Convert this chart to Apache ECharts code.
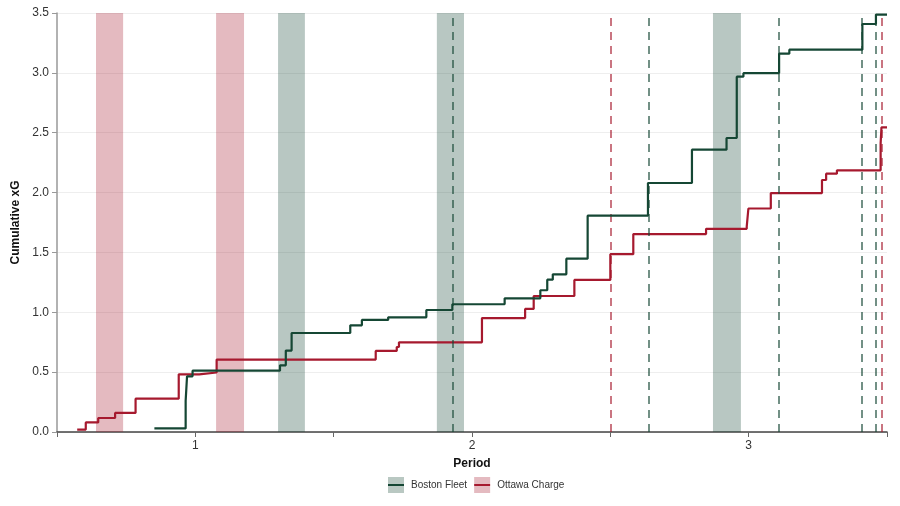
<!DOCTYPE html>
<html>
<head>
<meta charset="utf-8">
<script src="https://cdn.jsdelivr.net/npm/echarts@6/dist/echarts.min.js"></script>
<style>html,body{margin:0;padding:0;background:#fff;}#c{width:900px;height:506px;}</style>
</head>
<body>
<div id="c"></div>
<script>
// ---- data ----
const teams = ['Boston Fleet', 'Ottawa Charge'];
const bostonT  = [0.852, 0.965, 0.970, 0.990, 1.306, 1.327, 1.348, 1.560, 1.602, 1.697, 1.835, 1.929, 2.118, 2.247, 2.272, 2.292, 2.341, 2.418, 2.636, 2.795, 2.920, 2.957, 2.981, 3.110, 3.147, 3.411, 3.460, 3.5];
const bostonXG = [0.03, 0.26, 0.465, 0.512, 0.557, 0.68, 0.827, 0.891, 0.936, 0.958, 1.019, 1.067, 1.117, 1.184, 1.272, 1.317, 1.448, 1.807, 2.08, 2.358, 2.456, 2.968, 2.997, 3.16, 3.194, 3.408, 3.487, 3.487];
const ottawaT  = [0.573, 0.604, 0.649, 0.710, 0.784, 0.940, 1.014, 1.077, 1.652, 1.728, 1.736, 2.036, 2.192, 2.223, 2.370, 2.500, 2.583, 2.846, 2.993, 2.999, 3.080, 3.265, 3.280, 3.319, 3.477, 3.480, 3.5];
const ottawaXG = [0.02, 0.08, 0.117, 0.159, 0.278, 0.482, 0.497, 0.605, 0.677, 0.71, 0.749, 0.952, 1.028, 1.136, 1.27, 1.485, 1.653, 1.697, 1.715, 1.867, 1.996, 2.105, 2.158, 2.186, 2.412, 2.545, 2.545];
const bostonBands = [[1.299, 1.396], [1.873, 1.971], [2.871, 2.972]];
const ottawaBands = [[0.641, 0.739], [1.075, 1.176]];
const bostonGoals = [1.929, 2.636, 3.110, 3.411, 3.460];
const ottawaGoals = [2.500, 3.477];
const xTickLabels = {1: '1', 2: '2', 3: '3'};

// ---- style ----
const GREEN = '#154734', RED = '#a6192e';
const GREEN_BAND = 'rgba(21,71,52,0.3)', RED_BAND = 'rgba(166,25,46,0.3)';
const FONT = 'Liberation Sans, Arial, sans-serif';

function iconFill(light, dark) {
  return {type: 'linear', x: 0, y: 0, x2: 0, y2: 1, colorStops: [
    {offset: 0, color: light}, {offset: 0.42, color: light},
    {offset: 0.42, color: dark}, {offset: 0.58, color: dark},
    {offset: 0.58, color: light}, {offset: 1, color: light}]};
}

const chart = echarts.init(document.getElementById('c'), null, {renderer: 'canvas'});
chart.setOption({
  animation: false,
  backgroundColor: '#fff',
  grid: {left: 57, right: 13, top: 13, bottom: 74},
  legend: {
    left: 388, top: 477, padding: 0, itemWidth: 16, itemHeight: 16, itemGap: 7,
    icon: 'rect',
    textStyle: {fontFamily: FONT, fontSize: 10, color: '#333', padding: [0, 0, 0, 2]},
    data: [
      {name: teams[0], itemStyle: {color: iconFill('#b9c8c2', GREEN)}},
      {name: teams[1], itemStyle: {color: iconFill('#e4bac0', RED)}}
    ]
  },
  xAxis: {
    type: 'value', min: 0.5, max: 3.5, interval: 0.5,
    name: 'Period', nameLocation: 'middle', nameGap: 26,
    nameTextStyle: {fontFamily: FONT, fontSize: 12, fontWeight: 'bold', color: '#111'},
    axisLine: {lineStyle: {color: '#444', width: 1.5}},
    axisTick: {show: true, length: 5, lineStyle: {color: '#666'}},
    axisLabel: {fontFamily: FONT, fontSize: 12, color: '#333', margin: 8,
      formatter: v => xTickLabels[v] || ''},
    splitLine: {show: false}
  },
  yAxis: {
    type: 'value', min: 0, max: 3.5, interval: 0.5,
    name: 'Cumulative xG', nameLocation: 'middle', nameGap: 33,
    nameTextStyle: {fontFamily: FONT, fontSize: 12, fontWeight: 'bold', color: '#111'},
    axisLine: {show: true, lineStyle: {color: '#999', width: 1.5}},
    axisTick: {show: true, length: 5, lineStyle: {color: '#999'}},
    axisLabel: {fontFamily: FONT, fontSize: 12, color: '#333', margin: 8,
      formatter: v => v.toFixed(1)},
    splitLine: {show: true, lineStyle: {color: '#eeeeee', width: 1}}
  },
  series: [
    {
      name: teams[0], type: 'line', step: 'end', showSymbol: false, z: 5,
      data: bostonT.map((t, i) => [t, bostonXG[i]]),
      lineStyle: {color: GREEN, width: 2.2}, itemStyle: {color: GREEN},
      markArea: {silent: true, itemStyle: {color: GREEN_BAND},
        data: bostonBands.map(b => [{xAxis: b[0]}, {xAxis: b[1]}])},
      markLine: {silent: true, symbol: 'none', label: {show: false},
        lineStyle: {color: 'rgba(21,71,52,0.8)', type: [8, 6], width: 1.5},
        data: bostonGoals.map(g => ({xAxis: g}))}
    },
    {
      name: teams[1], type: 'line', step: 'end', showSymbol: false, z: 4,
      data: ottawaT.map((t, i) => [t, ottawaXG[i]]),
      lineStyle: {color: RED, width: 2.2}, itemStyle: {color: RED},
      markArea: {silent: true, itemStyle: {color: RED_BAND},
        data: ottawaBands.map(b => [{xAxis: b[0]}, {xAxis: b[1]}])},
      markLine: {silent: true, symbol: 'none', label: {show: false},
        lineStyle: {color: 'rgba(166,25,46,0.8)', type: [8, 6], width: 1.5},
        data: ottawaGoals.map(g => ({xAxis: g}))}
    }
  ]
});
</script>
</body>
</html>
